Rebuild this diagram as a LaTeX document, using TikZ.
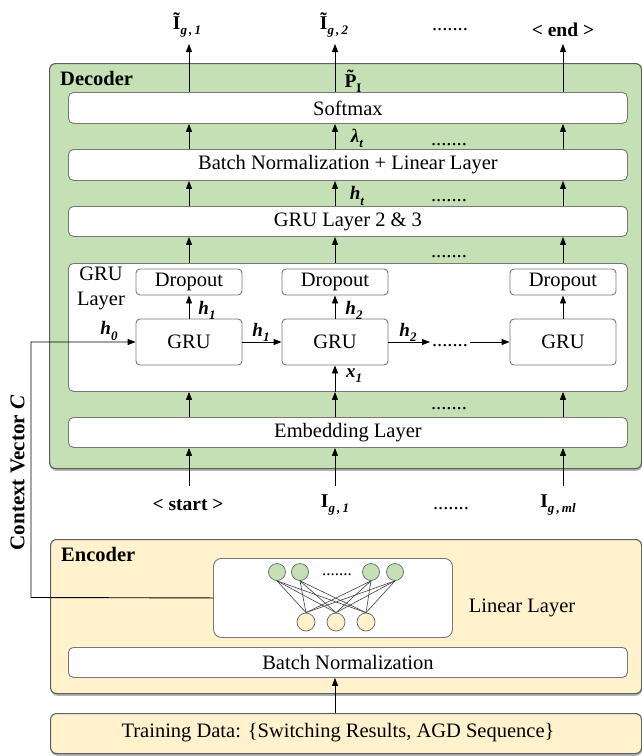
\documentclass[tikz,border=0pt]{standalone}
\usepackage{fontspec}
\setmainfont{Liberation Serif}
\usetikzlibrary{arrows.meta,shadows}
\definecolor{decgreen}{RGB}{197,224,180}
\definecolor{encyellow}{RGB}{255,242,204}
\definecolor{panelgray}{RGB}{95,95,95}
\definecolor{boxgray}{RGB}{120,120,120}
\newcommand{\sbs}[1]{\raisebox{-0.27em}{\fontsize{13}{13}\selectfont #1}}
\begin{document}
\begin{tikzpicture}[x=1pt,y=-1pt,
  every node/.style={font=\fontsize{20.5}{25}\selectfont},
  panel/.style={draw=panelgray, line width=1.1pt, rounded corners=6pt, anchor=north west, inner sep=0pt,
    drop shadow={shadow xshift=0.6pt, shadow yshift=-2.2pt, fill=black!55, opacity=0.55}},
  layerbox/.style={draw=boxgray, fill=white, line width=0.9pt, rounded corners=5pt, anchor=north west, inner sep=0pt},
  cellbox/.style={draw=boxgray, fill=white, line width=0.9pt, rounded corners=4pt, anchor=center, inner sep=0pt, minimum width=106pt},
  arr/.style={draw=black, line width=0.9pt, -{Triangle[length=8pt,width=6pt]}},
  lbl/.style={font=\fontsize{19}{22}\selectfont\bfseries\itshape, inner sep=0pt},
  iolbl/.style={font=\fontsize{19.5}{22}\selectfont\bfseries, inner sep=0pt, anchor=base},
  dotsn/.style={anchor=base, inner sep=0pt},
  nnline/.style={draw=black!75, line width=0.6pt},
  gcirc/.style={circle, draw=black!60, fill=decgreen, minimum size=17pt, inner sep=0pt, line width=0.7pt},
  ycirc/.style={circle, draw=black!60, fill=encyellow, minimum size=18pt, inner sep=0pt, line width=0.7pt}
]
\useasboundingbox (0,0) rectangle (642,756);

% panels
\node[panel, fill=decgreen, minimum width=592pt, minimum height=405pt] (dec) at (49,63) {};
\node[panel, fill=encyellow, minimum width=591pt, minimum height=154pt] (enc) at (50,539) {};
\node[panel, fill=encyellow, minimum width=591pt, minimum height=40pt] (train) at (50,713) {};
\node[anchor=base west, inner sep=0pt] (declbl) at (60,85) {\textbf{Decoder}};
\node[anchor=base west, inner sep=0pt] (enclbl) at (61,561) {\textbf{Encoder}};

% decoder layers
\node[layerbox, minimum width=559pt, minimum height=31pt] (soft) at (68,92) {Softmax};
\node[layerbox, minimum width=559pt, minimum height=31pt] (bnl) at (68,149) {Batch Normalization + Linear Layer};
\node[layerbox, minimum width=559pt, minimum height=30pt] (g23) at (68,206) {GRU Layer 2 \& 3};
\node[layerbox, minimum width=559pt, minimum height=128pt] (grul) at (68,263) {};
\node[layerbox, minimum width=559pt, minimum height=30pt] (emb) at (68,417) {Embedding Layer};
\node[align=center, inner sep=0pt] (grulbl) at (101,288) {GRU\\Layer};

% columns
\coordinate (c1) at (189,0);
\coordinate (c2) at (335,0);
\coordinate (c3) at (563,0);

% GRU cells and dropouts
\node[cellbox, minimum height=26pt] (d1) at (189,282) {Dropout};
\node[cellbox, minimum height=26pt] (d2) at (335,282) {Dropout};
\node[cellbox, minimum height=26pt] (d3) at (563,282) {Dropout};
\node[cellbox, minimum height=46pt] (gru1) at (189,342) {GRU};
\node[cellbox, minimum height=46pt] (gru2) at (335,342) {GRU};
\node[cellbox, minimum height=46pt] (gru3) at (563,342) {GRU};

% vertical arrows between layers
\foreach \c in {c1,c2,c3}{
  \draw[arr] (emb.north -| \c) -- (grul.south -| \c);
  \draw[arr] (grul.north -| \c) -- (g23.south -| \c);
  \draw[arr] (g23.north -| \c) -- (bnl.south -| \c);
  \draw[arr] (bnl.north -| \c) -- (soft.south -| \c);
}
\draw[arr] (gru1.north) -- (d1.south);
\draw[arr] (gru2.north) -- (d2.south);
\draw[arr] (gru3.north) -- (d3.south);
\draw[arr] (grul.south -| c2) -- (gru2.south);

% horizontal GRU chain
\coordinate (ga) at (430,342);
\coordinate (gb) at (470,342);
\draw[arr] (gru1.east) -- (gru2.west);
\draw[arr] (gru2.east) -- (ga);
\node[dotsn] (gdots) at (450,346) {.......};
\draw[arr] (gb) -- (gru3.west);

% outputs
\coordinate (o1) at (189,44);
\coordinate (o2) at (335,44);
\coordinate (o3) at (563,44);
\draw[arr] (soft.north -| c1) -- (o1);
\draw[arr] (soft.north -| c2) -- (o2);
\draw[arr] (soft.north -| c3) -- (o3);
\node[iolbl] (out1) at (187,29) {Ĩ\sbs{\textit{g\,,\,1}}};
\node[iolbl] (out2) at (334,29) {Ĩ\sbs{\textit{g\,,\,2}}};
\node[dotsn] (outdots) at (450,30) {.......};
\node[iolbl] (out3) at (563,36) {< end >};
\node[iolbl] (ptl) at (353,87) {P̃\sbs{I}};

% inputs
\coordinate (i1) at (189,486);
\coordinate (i2) at (335,486);
\coordinate (i3) at (563,486);
\draw[arr] (i1) -- (emb.south -| c1);
\draw[arr] (i2) -- (emb.south -| c2);
\draw[arr] (i3) -- (emb.south -| c3);
\node[iolbl] (in1) at (188,510) {< start >};
\node[iolbl] (in2) at (335,507) {I\sbs{\textit{g\,,\,1}}};
\node[dotsn] (indots) at (451,509) {.......};
\node[iolbl] (in3) at (558,507) {I\sbs{\textit{g\,,\,ml}}};

% row dots
\node[dotsn] (dl) at (449,145) {.......};
\node[dotsn] (dh) at (449,201) {.......};
\node[dotsn] (dg) at (449,257) {.......};
\node[dotsn] (de) at (449,409) {.......};

% labels
\node[lbl] (lam) at (357,138.5) {λ\sbs{t}};
\node[lbl] (ht) at (357,196) {h\sbs{t}};
\node[lbl] (h1a) at (207,310) {h\sbs{1}};
\node[lbl] (h2a) at (354,310) {h\sbs{2}};
\node[lbl] (h0) at (109,331) {h\sbs{0}};
\node[lbl] (h1b) at (261,332) {h\sbs{1}};
\node[lbl] (h2b) at (408,332) {h\sbs{2}};
\node[lbl] (x1) at (354,376) {x\sbs{1}};

% encoder
\node[layerbox, minimum width=239pt, minimum height=79pt, rounded corners=8pt] (nn) at (213,558) {};
\node[layerbox, minimum width=559pt, minimum height=30pt] (bn) at (68,647) {Batch Normalization};
\node (linlbl) at (522,608) {Linear Layer};

\node[gcirc] (g1) at (277,572) {};
\node[gcirc] (g2) at (300,572) {};
\node[gcirc] (g3) at (371,572) {};
\node[gcirc] (g4) at (395,572) {};
\node[ycirc] (y1) at (306,622) {};
\node[ycirc] (y2) at (336,622) {};
\node[ycirc] (y3) at (366,622) {};
\foreach \g in {g1,g2,g3,g4}{
  \foreach \y in {y1,y2,y3}{
    \draw[nnline] (\g.south) -- (\y.north);
  }
}
\node[dotsn, font=\fontsize{17}{20}\selectfont] (nndots) at (337,575) {.......};

% training data
\node (traintxt) at (338,733) {Training Data: \{Switching Results, AGD Sequence\}};
\coordinate (ca) at (335,0);
\draw[arr] (train.north -| ca) -- (bn.south -| ca);

% context vector
\coordinate (ctx) at (31,597.5);
\draw[arr] (nn.west) -- (ctx) |- (gru1.west);
\node[rotate=90, font=\fontsize{21}{24}\selectfont\bfseries, inner sep=0pt] (ctxlbl) at (17.5,473) {Context Vector \textit{C}};
\end{tikzpicture}
\end{document}
